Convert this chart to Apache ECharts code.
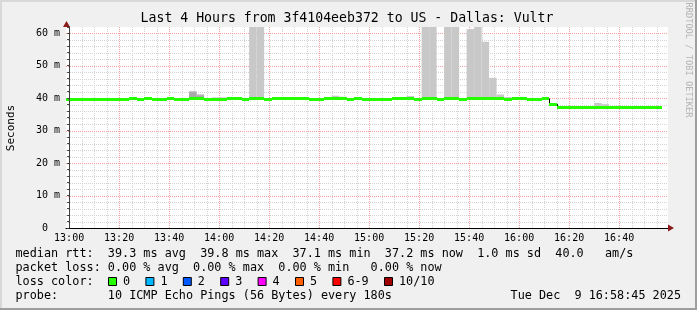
<!DOCTYPE html>
<html><head><meta charset="utf-8">
<script src="https://cdn.jsdelivr.net/npm/echarts@6/dist/echarts.min.js"></script>
<style>html,body{margin:0;padding:0;background:#f0f0f0}#c{width:697px;height:310px}</style>
</head><body><div id="c"></div>
<script>
// ---------------- data ----------------
// steps of 3 minutes, first step starts at 12:57 (minutes relative to 13:00)
const stepStart = -3;
const stepMinutes = 3;
// median RTT per step (ms)
const median = [
  39.55, 39.55, 39.55, 39.55, 39.55, 39.55, 39.55, 39.55, 39.55, 39.85,
  39.55, 39.85, 39.55, 39.55, 39.85, 39.55, 39.55, 39.85, 39.85, 39.55,
  39.55, 39.55, 39.85, 39.85, 39.55, 39.85, 39.85, 39.55, 39.85, 39.85,
  39.85, 39.85, 39.85, 39.55, 39.55, 39.85, 39.85, 39.85, 39.55, 39.85,
  39.55, 39.55, 39.55, 39.55, 39.85, 39.85, 39.85, 39.55, 39.85, 39.85,
  39.55, 39.85, 39.85, 39.55, 39.85, 39.85, 39.85, 39.85, 39.85, 39.55,
  39.85, 39.85, 39.55, 39.55, 39.85, 38.1, 37.15, 37.15, 37.15, 37.15,
  37.15, 37.15, 37.15, 37.15, 37.15, 37.15, 37.15, 37.15, 37.15, 37.15
];
// top of the light smoke (highest ping) per step, null = no visible smoke
const smokeLight = [
  null, null, null, null, null, null, null, null, null, null,
  null, null, null, null, null, null, null, 42.2, 41.2, null,
  40.2, 40.2, null, null, null, 70, 70, null, null, null,
  null, null, null, null, null, null, 40.7, 40.4, null, null,
  null, null, null, null, null, null, 40.6, null, 70, 70,
  null, 70, 70, null, 61.2, 70, 57.3, 46.2, 41.1, 40.3,
  null, null, null, null, null, null, null, null, null, null,
  null, 38.5, 38.1, null, null, null, null, null, null, null
];
// top of the darker smoke per step
const smokeDark = [
  null, null, null, null, null, null, null, null, null, null,
  null, null, null, null, null, null, null, 41.8, 40.8, null,
  null, null, null, null, null, null, null, null, null, null,
  null, null, null, null, null, null, null, null, null, null,
  null, null, null, null, null, null, null, null, null, null,
  null, null, null, null, null, null, null, null, null, null,
  null, null, null, null, null, null, null, null, null, null,
  null, null, null, null, null, null, null, null, null, null
];
const xTickLabels = ['13:00','13:20','13:40','14:00','14:20','14:40','15:00','15:20','15:40','16:00','16:20','16:40'];
const yTickValues = [0, 10, 20, 30, 40, 50, 60];
const lossLabels = ['0','1','2','3','4','5','6-9','10/10'];
const lossColors = ['#26ff00','#00b8ff','#0059ff','#5e00ff','#ff00ff','#ff5e00','#ff0000','#a10000'];
const titleText = 'Last 4 Hours from 3f4104eeb372 to US - Dallas: Vultr';
const legendLine1 = 'median rtt:  39.3 ms avg  39.8 ms max  37.1 ms min  37.2 ms now  1.0 ms sd  40.0   am/s';
const legendLine2 = 'packet loss: 0.00 % avg  0.00 % max  0.00 % min   0.00 % now';
const legendLine3 = 'loss color:';
const legendLine4 = 'probe:       10 ICMP Echo Pings (56 Bytes) every 180s';
const dateText = 'Tue Dec  9 16:58:45 2025';

// ---------------- layout ----------------
const xMin = -1.25, xMax = 239.55, yMax = 61.85;
const G = {left: 66, top: 27, right: 29, bottom: 82};
const MONO = '"DejaVu Sans Mono", monospace';

const chart = echarts.init(document.getElementById('c'), null, {renderer: 'canvas'});

const stepData = (arr, withBottom) => arr.map((v, i) => {
  if (v == null) return null;
  const x0 = stepStart + i * stepMinutes, x1 = x0 + stepMinutes;
  return withBottom ? [x0, x1, median[i], v] : [x0, x1, v];
}).filter(d => d);

const medianSeg = stepData(median, false);
const smokeLightData = stepData(smokeLight, true);
const smokeDarkData = stepData(smokeDark, true);
// vertical transitions of the median line (only where the jump is visible)
const jumps = [];
for (let i = 1; i < median.length; i++) {
  if (Math.abs(median[i] - median[i - 1]) > 0.5) jumps.push([stepStart + i * stepMinutes, median[i - 1], median[i]]);
}

const xMajor = xTickLabels.map((_, i) => i * 20);
const xMinor = [];
for (let m = 5; m < xMax; m += 5) if (m % 20 !== 0) xMinor.push(m);
const yMinor = [];
for (let v = 2; v < yMax; v += 2) if (v % 10 !== 0) yMinor.push(v);

const crisp = v => Math.round(v) + 0.5;
const hLine = color => (params, api) => {
  const y = crisp(api.coord([xMin, api.value(0)])[1]);
  const a = api.coord([xMin, 0])[0], b = api.coord([xMax, 0])[0];
  return {type: 'line', shape: {x1: a, y1: y, x2: b, y2: y}, style: {stroke: color, lineWidth: 1, lineDash: [1, 1]}};
};
const vLine = color => (params, api) => {
  const x = crisp(api.coord([api.value(0), 0])[0]);
  const a = api.coord([0, 0])[1], b = api.coord([0, yMax])[1];
  return {type: 'line', shape: {x1: x, y1: a, x2: x, y2: b}, style: {stroke: color, lineWidth: 1, lineDash: [1, 1]}};
};
const rectItem = color => (params, api) => {
  const p0 = api.coord([api.value(0), api.value(3)]);
  const p1 = api.coord([api.value(1), api.value(2)]);
  return {type: 'rect', shape: {x: p0[0], y: p0[1], width: p1[0] - p0[0], height: p1[1] - p0[1]}, style: {fill: color}};
};

// legend swatches
const legendGraphics = [];
let sx = 108;
lossLabels.forEach((lab, i) => {
  legendGraphics.push({type: 'rect', shape: {x: sx + 0.5, y: 277.5, width: 8, height: 8},
    style: {fill: lossColors[i], stroke: '#000', lineWidth: 1}, z: 10});
  legendGraphics.push({type: 'text', x: sx + 15, y: 282.3,
    style: {text: lab, font: '11.8px ' + MONO, fill: '#000', textVerticalAlign: 'middle', verticalAlign: 'middle'}, z: 10});
  sx = sx + 15 + lab.length * 7.1 + 15.3;
});

const txt = (text, x, y, size, extra) => Object.assign({type: 'text', x: x, y: y, z: 10,
  style: Object.assign({text: text, font: size + 'px ' + MONO, fill: '#000', textVerticalAlign: 'middle', verticalAlign: 'middle'}, extra || {})});

chart.setOption({
  animation: false,
  backgroundColor: '#f0f0f0',
  grid: {left: G.left, top: G.top, right: G.right, bottom: G.bottom, backgroundColor: '#ffffff', show: true, borderWidth: 0},
  xAxis: {
    type: 'value', min: xMin, max: xMax, splitNumber: 12, z: 6,
    axisLine: {show: true, lineStyle: {color: '#000', width: 1}},
    axisTick: {show: false},
    splitLine: {show: false},
    axisLabel: {fontFamily: 'DejaVu Sans Mono', fontSize: 10, color: '#000', margin: 5,
      formatter: v => (Math.abs(v % 20) < 1e-6 && v >= 0 && v / 20 < xTickLabels.length) ? xTickLabels[Math.round(v / 20)] : ''}
  },
  yAxis: {
    type: 'value', min: 0, max: yMax, interval: 10, z: 6,
    axisLine: {show: true, lineStyle: {color: '#404040', width: 1}},
    axisTick: {show: true, length: 2, lineStyle: {color: '#404040'}},
    minorTick: {show: true, splitNumber: 5, length: 2, lineStyle: {color: '#404040'}},
    splitLine: {show: false},
    axisLabel: {fontFamily: 'DejaVu Sans Mono', fontSize: 10, color: '#000', margin: 6,
      formatter: v => yTickValues.indexOf(v) >= 0 ? (v === 0 ? '0  ' : v + ' m') : ''}
  },
  series: [
    {type: 'custom', name: 'minorH', z: 1, silent: true, clip: true, data: yMinor.map(v => [v]), renderItem: hLine('#d3d3d3')},
    {type: 'custom', name: 'minorV', z: 1, silent: true, clip: true, data: xMinor.map(v => [v]), renderItem: vLine('#d3d3d3')},
    {type: 'custom', name: 'majorH', z: 1, silent: true, clip: true, data: yTickValues.filter(v => v > 0).map(v => [v]), renderItem: hLine('#f2a0a0')},
    {type: 'custom', name: 'majorV', z: 1, silent: true, clip: true, data: xMajor.filter(v => v > 0).map(v => [v]), renderItem: vLine('#f2a0a0')},
    {type: 'custom', name: 'smoke', z: 2, silent: true, clip: true, data: smokeLightData,
      encode: {x: [0, 1], y: [2, 3]}, renderItem: rectItem('#c8c8c8')},
    {type: 'custom', name: 'smokeDark', z: 2, silent: true, clip: true, data: smokeDarkData,
      encode: {x: [0, 1], y: [2, 3]}, renderItem: rectItem('#a8a8a8')},
    {type: 'custom', name: 'medianJumps', z: 3, silent: true, clip: true, data: jumps,
      encode: {x: 0, y: [1, 2]},
      renderItem: (params, api) => {
        const p0 = api.coord([api.value(0), api.value(1)]);
        const p1 = api.coord([api.value(0), api.value(2)]);
        const x = crisp(p0[0]);
        return {type: 'line', shape: {x1: x, y1: p0[1], x2: x, y2: p1[1]}, style: {stroke: '#000', lineWidth: 1}};
      }},
    {type: 'custom', name: 'median', z: 4, silent: true, clip: true, data: medianSeg,
      encode: {x: [0, 1], y: 2},
      renderItem: (params, api) => {
        const p0 = api.coord([api.value(0), api.value(2)]);
        const p1 = api.coord([api.value(1), api.value(2)]);
        const y = crisp(p0[1]);
        return {type: 'line', shape: {x1: Math.round(p0[0]), y1: y, x2: Math.round(p1[0]), y2: y}, style: {stroke: '#26ff00', lineWidth: 3}};
      }}
  ],
  graphic: [
    // 3D border
    {type: 'rect', shape: {x: 0, y: 0, width: 697, height: 2}, style: {fill: '#d8d8d8'}, z: 20},
    {type: 'rect', shape: {x: 0, y: 0, width: 2, height: 310}, style: {fill: '#d8d8d8'}, z: 20},
    {type: 'rect', shape: {x: 0, y: 308, width: 697, height: 2}, style: {fill: '#9e9e9e'}, z: 21},
    {type: 'rect', shape: {x: 695, y: 0, width: 2, height: 310}, style: {fill: '#9e9e9e'}, z: 21},
    // axis arrows
    {type: 'polygon', shape: {points: [[63, 27], [70, 27], [66.5, 21]]}, style: {fill: '#8b1a1a'}, z: 12},
    {type: 'polygon', shape: {points: [[668, 224.5], [668, 231.5], [674, 228]]}, style: {fill: '#8b1a1a'}, z: 12},
    txt(titleText, 347, 19, 13.2, {textAlign: 'center', align: 'center'}),
    Object.assign(txt('Seconds', 11, 128, 11, {textAlign: 'center', align: 'center'}), {rotation: Math.PI / 2}),
    Object.assign(txt('RRDTOOL / TOBI OETIKER', 688, 60, 8.7, {textAlign: 'center', align: 'center', fill: '#b4b4b4'}), {rotation: -Math.PI / 2}),
    txt(legendLine1, 15.5, 254.3, 11.8),
    txt(legendLine2, 15.5, 268.3, 11.8),
    txt(legendLine3, 15.5, 282.3, 11.8),
    txt(legendLine4, 15.5, 296.2, 11.8),
    txt(dateText, 681, 296.2, 11.8, {textAlign: 'right', align: 'right'})
  ].concat(legendGraphics)
});
</script>
</body></html>
